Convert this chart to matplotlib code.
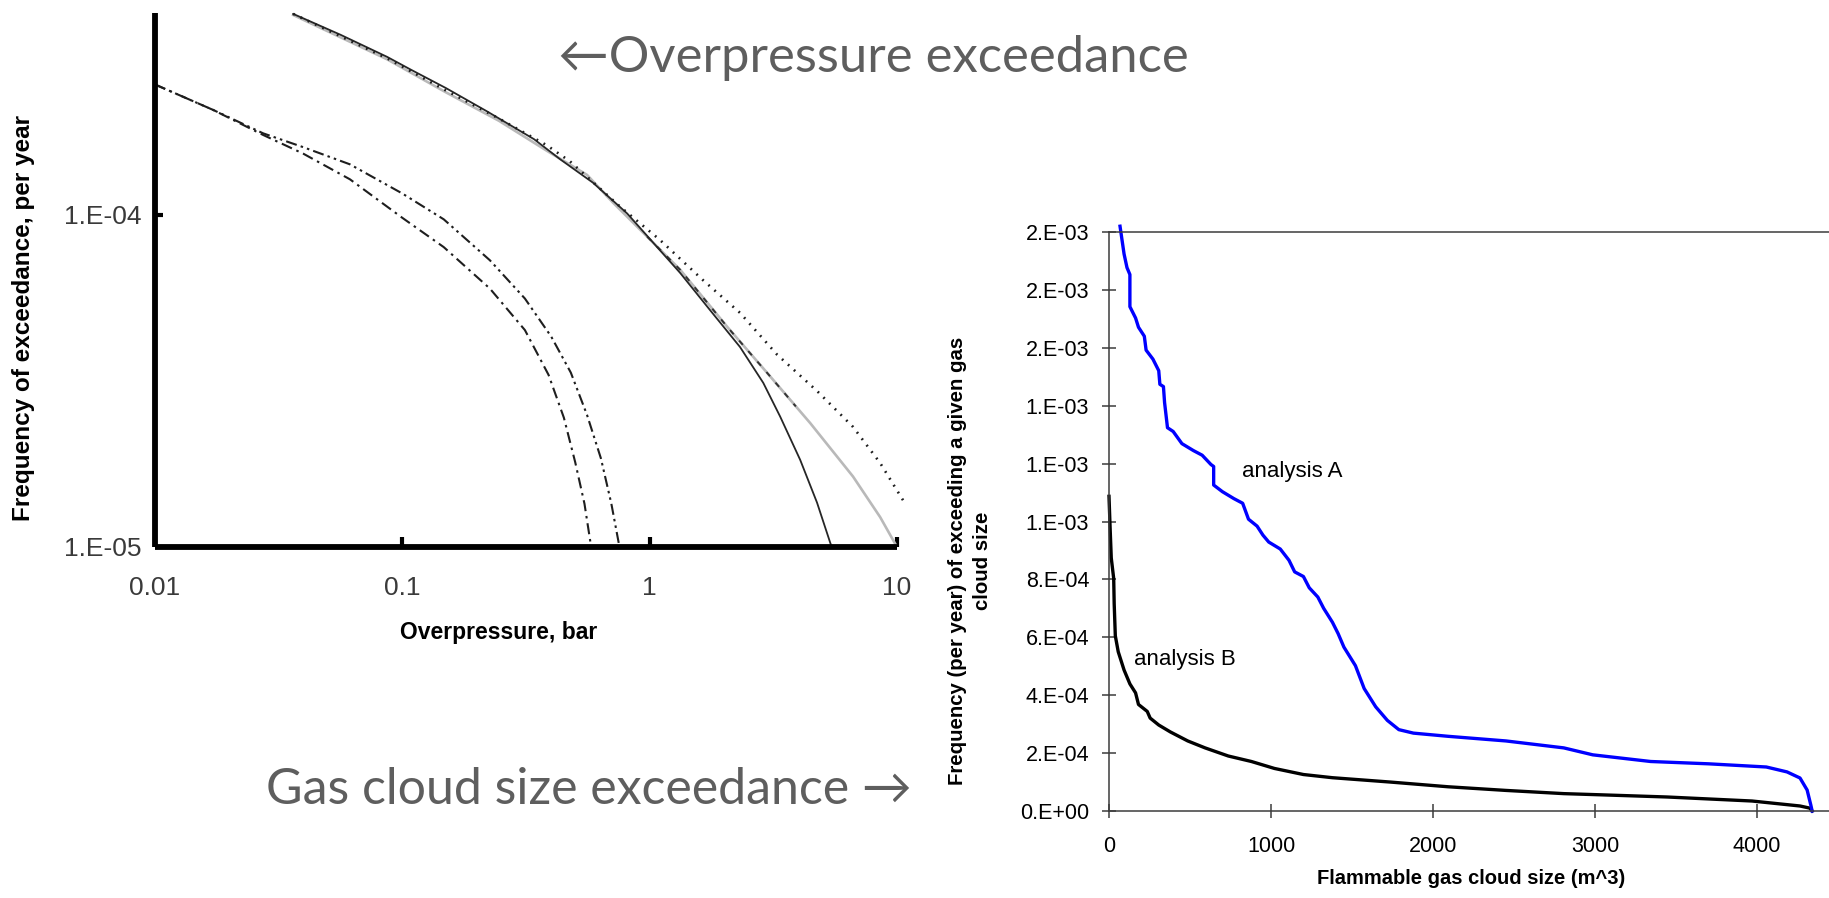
import matplotlib.pyplot as plt
from matplotlib.ticker import FixedLocator, NullLocator, FixedFormatter, FuncFormatter

plt.rcParams.update({
    "font.family": ["Liberation Sans", "DejaVu Sans"],
    "lines.scale_dashes": False,
    "axes.unicode_minus": False,
})

W, H = 1829, 898

# ---------- overpressure exceedance curves (bar, per year) ----------
p_solid = [0.0362, 0.0561, 0.0869, 0.108, 0.150, 0.220, 0.341, 0.435, 0.590, 0.811,
           1.33, 1.75, 2.32, 2.88, 3.37, 4.06, 4.75, 5.37, 5.45]
f_solid = [4.03e-4, 3.49e-4, 2.99e-4, 2.74e-4, 2.41e-4, 2.05e-4, 1.69e-4, 1.47e-4, 1.25e-4, 1.01e-4,
           6.68e-5, 5.18e-5, 4.0e-5, 3.12e-5, 2.47e-5, 1.83e-5, 1.36e-5, 1.03e-5, 1.0e-5]

p_gray = [0.0362, 0.0869, 0.150, 0.246, 0.384, 0.558, 0.71, 0.977, 1.33, 2.06,
          2.99, 4.46, 6.64, 8.55, 10.0]
f_gray = [4.0e-4, 2.94e-4, 2.34e-4, 1.92e-4, 1.56e-4, 1.32e-4, 1.09e-4, 8.6e-5, 6.83e-5, 4.6e-5,
          3.34e-5, 2.36e-5, 1.63e-5, 1.23e-5, 1.0e-5]

p_dash = [0.977, 1.33, 2.06, 2.99, 3.9]
f_dash = [8.6e-5, 6.83e-5, 4.6e-5, 3.34e-5, 2.65e-5]

p_dot = [0.0362, 0.0869, 0.150, 0.246, 0.384, 0.476, 0.758, 1.10, 1.64, 2.32,
         3.27, 4.75, 6.64, 8.55, 10.6]
f_dot = [4.03e-4, 2.96e-4, 2.37e-4, 1.95e-4, 1.62e-4, 1.45e-4, 1.06e-4, 8.41e-5, 6.37e-5, 5.07e-5,
         3.8e-5, 2.95e-5, 2.30e-5, 1.79e-5, 1.38e-5]

p_dd1 = [0.01, 0.0172, 0.0274, 0.0397, 0.0614, 0.100, 0.147, 0.226, 0.313, 0.39,
         0.45, 0.50, 0.545, 0.58]
f_dd1 = [2.47e-4, 2.07e-4, 1.74e-4, 1.53e-4, 1.28e-4, 9.8e-5, 8.0e-5, 6.0e-5, 4.5e-5, 3.3e-5,
         2.45e-5, 1.8e-5, 1.35e-5, 1.0e-5]

p_dd2 = [0.01, 0.0172, 0.0274, 0.0397, 0.0614, 0.100, 0.147, 0.226, 0.313, 0.40,
         0.48, 0.558, 0.635, 0.70, 0.755]
f_dd2 = [2.47e-4, 2.07e-4, 1.76e-4, 1.60e-4, 1.42e-4, 1.16e-4, 9.7e-5, 7.3e-5, 5.6e-5, 4.3e-5,
         3.35e-5, 2.5e-5, 1.85e-5, 1.35e-5, 1.0e-5]

p_ticks = [0.01, 0.1, 1, 10]
p_ticklabels = ["0.01", "0.1", "1", "10"]
f_ticks = [1e-5, 1e-4]
f_ticklabels = ["1.E-05", "1.E-04"]

# ---------- gas cloud size exceedance (m^3, per year) ----------
a_size = [68, 93, 111, 129, 129, 164, 182, 218, 229, 271, 307, 314, 336, 343, 361, 396, 450,
          521, 575, 629, 646, 646, 700, 771, 825, 861, 914, 950, 986, 1057, 1111, 1146, 1200,
          1236, 1289, 1325, 1379, 1414, 1450, 1521, 1575, 1646, 1718, 1789, 1879, 2093, 2450,
          2807, 2986, 3343, 3700, 4057, 4185, 4265, 4309, 4332, 4340]
a_freq = [2.02e-3, 1.924e-3, 1.877e-3, 1.853e-3, 1.742e-3, 1.703e-3, 1.671e-3, 1.640e-3,
          1.592e-3, 1.561e-3, 1.521e-3, 1.474e-3, 1.466e-3, 1.411e-3, 1.324e-3, 1.311e-3,
          1.269e-3, 1.245e-3, 1.229e-3, 1.197e-3, 1.190e-3, 1.126e-3, 1.103e-3, 1.079e-3,
          1.063e-3, 1.008e-3, 0.984e-3, 0.953e-3, 0.929e-3, 0.905e-3, 0.866e-3, 0.826e-3,
          0.810e-3, 0.771e-3, 0.739e-3, 0.700e-3, 0.652e-3, 0.613e-3, 0.566e-3, 0.502e-3,
          0.423e-3, 0.360e-3, 0.313e-3, 0.281e-3, 0.269e-3, 0.258e-3, 0.242e-3, 0.218e-3,
          0.194e-3, 0.171e-3, 0.163e-3, 0.152e-3, 0.135e-3, 0.114e-3, 0.0725e-3, 0.02e-3, 0.0]

b_size = [0, 7, 14, 29, 32, 39, 57, 93, 129, 164, 182, 236, 254, 307, 379, 486, 593, 736,
          879, 1021, 1200, 1379, 1736, 2093, 2450, 2807, 3031, 3444, 3969, 4265, 4325, 4340]
b_freq = [1.087e-3, 0.976e-3, 0.874e-3, 0.803e-3, 0.716e-3, 0.605e-3, 0.550e-3, 0.487e-3,
          0.439e-3, 0.408e-3, 0.368e-3, 0.344e-3, 0.321e-3, 0.297e-3, 0.273e-3, 0.242e-3,
          0.218e-3, 0.190e-3, 0.171e-3, 0.147e-3, 0.126e-3, 0.115e-3, 0.100e-3, 0.0837e-3,
          0.0711e-3, 0.0600e-3, 0.0560e-3, 0.0484e-3, 0.0345e-3, 0.0173e-3, 0.010e-3, 0.0]

size_ticks = [0, 1000, 2000, 3000, 4000]
freq_ticks = [i * 0.0002 for i in range(11)]


def px_box(left, top, right, bottom):
    return [left / W, 1 - bottom / H, (right - left) / W, (bottom - top) / H]


fig = plt.figure(figsize=(W / 100, H / 100), dpi=100)

# ===== left: overpressure, log-log =====
ax1 = fig.add_axes(px_box(155, 13, 897, 547))
ax1.set_xscale("log")
ax1.set_yscale("log")
ax1.plot(p_gray, f_gray, color="#b9b9b9", lw=1.9)
ax1.plot(p_dash, f_dash, color="#333333", lw=1.4, dashes=[4, 6])
ax1.plot(p_solid, f_solid, color="#262626", lw=1.3)
ax1.plot(p_dot, f_dot, color="#1e1e1e", lw=1.9, dashes=[1.3, 4.5], clip_on=False)
ax1.plot(p_dd1, f_dd1, color="#1e1e1e", lw=1.5, dashes=[8, 3.5, 1.8, 3.5])
ax1.plot(p_dd2, f_dd2, color="#1e1e1e", lw=1.5, dashes=[8, 3, 1.8, 3, 1.8, 3])
ax1.set_xlim(0.01, 10)
ax1.set_ylim(1e-5, 10 ** -3.392)

for s in ["top", "right"]:
    ax1.spines[s].set_visible(False)
for s in ["left", "bottom"]:
    ax1.spines[s].set_linewidth(4.2)
    ax1.spines[s].set_color("black")
    ax1.spines[s].set_capstyle("butt")

ax1.xaxis.set_major_locator(FixedLocator(p_ticks))
ax1.xaxis.set_major_formatter(FixedFormatter(p_ticklabels))
ax1.yaxis.set_major_locator(FixedLocator(f_ticks))
ax1.yaxis.set_major_formatter(FixedFormatter(f_ticklabels))
ax1.xaxis.set_minor_locator(NullLocator())
ax1.yaxis.set_minor_locator(NullLocator())
ax1.tick_params(axis="x", direction="in", length=7, width=3, pad=21,
                labelsize=19, labelcolor="#3a3a3a")
ax1.tick_params(axis="y", direction="in", length=6, width=3, pad=10,
                labelsize=19, labelcolor="#3a3a3a")

fig.text(24 / W, 1 - 318 / H, "Frequency of exceedance, per year", rotation=90,
         ha="center", va="center", fontsize=17.5, fontweight="bold")
fig.text(499 / W, 1 - 632 / H, "Overpressure, bar", ha="center", va="center",
         fontsize=16.5, fontweight="bold")

# ===== right: gas cloud size, linear =====
ax2 = fig.add_axes(px_box(1109, 232, 1829, 811))
ax2.plot(b_size, b_freq, color="black", lw=2.4, clip_on=False)
ax2.plot(a_size, a_freq, color="#0000ff", lw=2.4, clip_on=False)
ax2.set_xlim(0, 4444)
ax2.set_ylim(0, 0.002)
ax2.spines["right"].set_visible(False)
for s in ["top", "left", "bottom"]:
    ax2.spines[s].set_linewidth(1.1)
    ax2.spines[s].set_color("#3c3c3c")

ax2.xaxis.set_major_locator(FixedLocator(size_ticks))
ax2.yaxis.set_major_locator(FixedLocator(freq_ticks))
ax2.yaxis.set_major_formatter(FuncFormatter(lambda v, pos: f"{v:.0E}".replace("E", ".E")))
ax2.tick_params(direction="inout", length=10.5, width=1.1, color="#3c3c3c",
                labelsize=15.5, labelcolor="black")
ax2.tick_params(axis="x", pad=13)
ax2.tick_params(axis="y", pad=9)

ax2.text(821, 0.001171, "analysis A", ha="left", va="center", fontsize=16)
ax2.text(154, 0.000525, "analysis B", ha="left", va="center", fontsize=16)

fig.text(970 / W, 1 - 561 / H, "Frequency (per year) of exceeding a given gas\ncloud size",
         rotation=90, ha="center", va="center", multialignment="center",
         fontsize=14.7, fontweight="bold", linespacing=1.35)
fig.text(1471 / W, 1 - 878 / H, "Flammable gas cloud size (m^3)", ha="center", va="center",
         fontsize=14.5, fontweight="bold")

# ===== headings =====
heading_font = ["Lato", "DejaVu Sans"]
fig.text(558 / W, 1 - 72 / H, "\u2190Overpressure exceedance", ha="left", va="baseline",
         fontsize=36.5, color="#5e5e5e", family=heading_font)
fig.text(266 / W, 1 - 804 / H, "Gas cloud size exceedance \u2192", ha="left", va="baseline",
         fontsize=36, color="#5e5e5e", family=heading_font)

fig.savefig("out.png", dpi=100)
